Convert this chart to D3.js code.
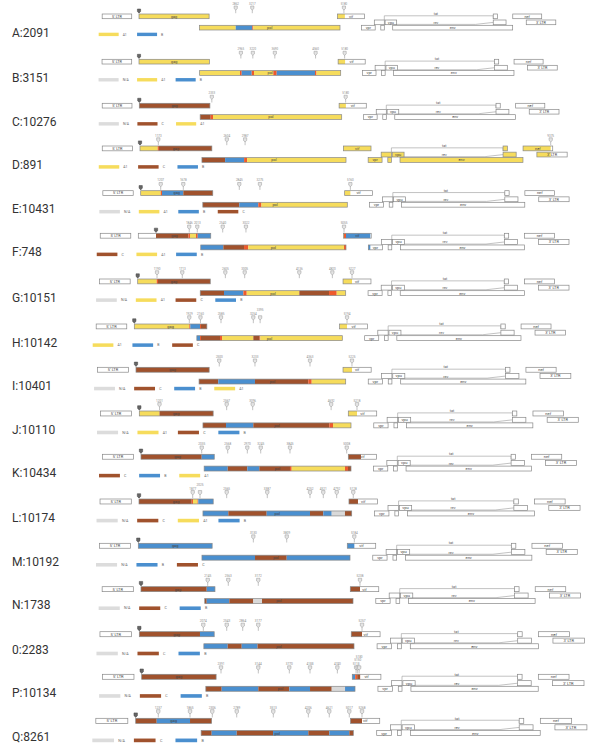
<!DOCTYPE html>
<html><head><meta charset="utf-8">
<script src="https://cdn.jsdelivr.net/npm/d3@7"></script>
<style>
body{margin:0;background:#fff}
svg{display:block;font-family:Roboto,"Noto Sans",Arial,sans-serif}
</style>
</head><body>
<svg id="chart" width="589" height="747"></svg>
<script>
// Sample names, one per recombinant genome map
const sampleLabels = ["A:2091","B:3151","C:10276","D:891","E:10431","F:748","G:10151","H:10142","I:10401",
  "J:10110","K:10434","L:10174","M:10192","N:1738","0:2283","P:10134","Q:8261"];

// HXB2 gene coordinates and reading frame row (0 = top)
const genes = [
  {name:"5' LTR", start:1,    end:634,  row:0, label:"5' LTR"},
  {name:"gag",    start:790,  end:2292, row:0, label:"gag"},
  {name:"pol",    start:2085, end:5096, row:2, label:"pol"},
  {name:"vif",    start:5041, end:5619, row:0, label:"vif"},
  {name:"vpr",    start:5559, end:5850, row:2, label:"vpr"},
  {name:"tat1",   start:5831, end:6045, row:1, label:""},
  {name:"rev1",   start:5970, end:6045, row:2, label:""},
  {name:"vpu",    start:6062, end:6310, row:1, label:"vpu"},
  {name:"env",    start:6225, end:8795, row:2, label:"env"},
  {name:"tat2",   start:8379, end:8469, row:0, label:""},
  {name:"rev2",   start:8379, end:8653, row:1, label:""},
  {name:"nef",    start:8797, end:9417, row:0, label:"nef"},
  {name:"3' LTR", start:9086, end:9719, row:1, label:"3' LTR"}
];

// Subtype segments per genome: [start, end, subtype] (U = unresolved junction, N = N/A)
const recombinantSegments = [
  [[790,2862,"A1"],[2862,3217,"B"],[3217,3240,"U"],[3240,5200,"A1"]],
  [[790,2946,"A1"],[2946,2983,"U"],[2983,3196,"B"],[3196,3245,"U"],[3245,3657,"A1"],[3657,3730,"U"],[3730,4547,"B"],[4547,4580,"U"],[4580,5190,"A1"]],
  [[790,2309,"C"],[2309,2358,"U"],[2358,5185,"A1"]],
  [[790,1160,"A1"],[1160,1185,"U"],[1185,2569,"C"],[2569,2966,"B"],[2966,3028,"U"],[3028,9375,"A1"]],
  [[790,1207,"A1"],[1207,1234,"U"],[1234,1678,"B"],[1678,2845,"C"],[2845,3241,"B"],[3241,3307,"U"],[3307,5160,"A1"]],
  [[1157,1830,"C"],[1830,1862,"U"],[1862,1986,"A1"],[1986,2022,"U"],[2022,2553,"B"],[2553,2982,"C"],[2982,3071,"U"],[3071,5055,"A1"],[5055,5096,"U"],[5096,5600,"B"]],
  [[790,1183,"A1"],[1183,1210,"U"],[1210,2577,"C"],[2577,2977,"B"],[2977,3047,"U"],[3047,4136,"A1"],[4136,4751,"C"],[4751,4910,"U"],[4910,5227,"A1"]],
  [[790,1929,"A1"],[1929,1950,"U"],[1950,2150,"B"],[2150,2170,"U"],[2170,2564,"C"],[2564,2606,"U"],[2606,3254,"A1"],[3254,3385,"C"],[3385,3400,"U"],[3400,5194,"A1"]],
  [[790,2480,"C"],[2480,3233,"B"],[3233,4328,"C"],[4328,4398,"U"],[4398,5225,"A1"]],
  [[790,1201,"A1"],[1201,2554,"C"],[2554,3109,"B"],[3109,4655,"C"],[4655,4730,"U"],[4730,5218,"A1"]],
  [[790,2035,"C"],[2035,2568,"B"],[2568,2970,"C"],[2970,3216,"B"],[3216,3845,"C"],[3845,3880,"U"],[3880,4973,"A1"],[4973,5034,"U"],[5034,5300,"C"]],
  [[790,1857,"C"],[1857,1883,"U"],[1883,1975,"A1"],[1975,1990,"U"],[1990,2598,"B"],[2598,3375,"C"],[3375,4252,"B"],[4252,4521,"C"],[4521,4691,"B"],[4691,4960,"N"],[4960,5223,"C"]],
  [[790,3164,"B"],[3164,3809,"C"],[3809,5184,"B"]],
  [[790,2125,"C"],[2125,2584,"B"],[2584,3071,"C"],[3071,3248,"N"],[3248,5238,"C"]],
  [[790,2007,"C"],[2007,2563,"B"],[2563,2844,"C"],[2844,3161,"B"],[3161,5257,"C"]],
  [[790,2405,"C"],[2405,3144,"B"],[3144,3770,"C"],[3770,4188,"B"],[4188,4626,"C"],[4626,4895,"N"],[4895,5100,"B"],[5100,5140,"U"],[5140,5200,"C"]],
  [[790,1206,"C"],[1206,1865,"B"],[1865,2294,"C"],[2294,2789,"B"],[2789,3507,"C"],[3507,4206,"B"],[4206,4621,"C"],[4621,5017,"B"],[5017,5268,"C"]]
];

// Marked positions per genome: sequence start, breakpoints, sequence end
const breakpoints = [
  [790,2862,3217,5180],
  [790,2965,3220,3690,4560,5180],
  [790,2333,5180],
  [790,1173,2604,2987,9375],
  [790,1207,1678,2845,3275,5160],
  [1157,1846,2013,2540,3022,5055],
  [790,1190,1713,2605,3005,4136,4820,5227],
  [790,1929,2160,2585,3254,3395,5194],
  [790,2500,3233,4363,5225],
  [790,1201,2567,3096,4692,5218],
  [790,2035,2568,2970,3245,3845,5008],
  [790,1877,2025,2565,3387,4252,4521,4792,5128],
  [790,3130,3809,5184],
  [790,2145,2563,3172,5238],
  [790,2074,2543,2864,3177,5257],
  [790,2391,3144,3770,4188,4740,5118,5150,5180],
  [790,1237,1865,2306,2789,3513,4206,4621,5017,5268]
];

// Legend entries per genome
const legendSubtypes = [
  ["A1","B"],["N/A","A1","B"],["N/A","C","A1"],["A1","C","B"],["N/A","A1","B","C"],["C","A1","B"],
  ["N/A","A1","C","B"],["A1","B","C"],["N/A","C","B","A1"],["N/A","A1","C","B"],["C","B","A1"],
  ["N/A","C","A1","B"],["N/A","B","C"],["N/A","C","B"],["N/A","C","B"],["N/A","C","B"],["N/A","C","B"]
];

const subtypeColor = {"A1":"#f6dc5c","B":"#4a8fcf","C":"#a0522d","U":"#ee5a2c","N":"#d9d9d9","N/A":"#dcdcdc"};

// ---- layout ----
const svg = d3.select("#chart");
const panelTop = [14,59.3,103.3,146,190.7,233.3,279,324,367.3,411,454.3,499,543.3,586.7,631.7,674.3,718.3];
const panelRange = [[139,340],[139,340.7],[139.3,341.7],[140,346],[140.7,347.3],[138.3,346],[137.7,345.7],
  [134.3,342.3],[136,345.7],[139.3,351],[141,351],[139,351.7],[138.3,350],[141,353],[139.3,354],[141.7,355],[135.7,353.3]];
const rowOffset = [0, 6, 11.3];
const boxH = 4.7;

sampleLabels.forEach((name, i) => {
  svg.append("text").attr("x", 12).attr("y", panelTop[i] + 18.5).attr("dy", "0.35em")
    .attr("font-size", 12).attr("fill", "#333").text(name);
});

sampleLabels.forEach((name, i) => {
  const x = d3.scaleLinear().domain([790, 5096]).range(panelRange[i]);
  const s = (panelRange[i][1] - panelRange[i][0]) / 201;
  const top = panelTop[i];
  const g = svg.append("g");
  const segs = recombinantSegments[i];
  const yRow = r => top + rowOffset[r] * s;

  // splice connector lines for tat and rev
  const tat1 = genes.find(d => d.name === "tat1"), tat2 = genes.find(d => d.name === "tat2");
  const rev1 = genes.find(d => d.name === "rev1"), rev2 = genes.find(d => d.name === "rev2");
  const tatY = top + 1.8 * s;
  g.append("path").attr("fill", "none").attr("stroke", "#999").attr("stroke-width", 0.6)
    .attr("d", d3.line()([[x(tat1.end), yRow(1)], [x(tat1.end), tatY], [x(tat2.start), tatY], [x(tat2.start), yRow(0) + boxH * s]]));
  const revY = top + 10.4 * s;
  g.append("path").attr("fill", "none").attr("stroke", "#999").attr("stroke-width", 0.6)
    .attr("d", d3.line()([[x(rev1.end), yRow(2)], [x(rev1.end), revY], [x(8000), revY], [x(rev2.start), top + 8.4 * s]]));
  g.append("text").attr("x", x(7150)).attr("y", tatY - 0.7).attr("text-anchor", "middle")
    .attr("font-size", 3.6 * s).attr("fill", "#555").text("tat");
  g.append("text").attr("x", x(7150)).attr("y", revY - 0.6).attr("text-anchor", "middle")
    .attr("font-size", 3.6 * s).attr("fill", "#555").text("rev");

  // gene boxes, filled with the subtype segments they overlap
  genes.forEach(gene => {
    const x0 = x(gene.start), x1 = x(gene.end), y0 = yRow(gene.row), h = boxH * s;
    g.append("rect").attr("x", x0).attr("y", y0).attr("width", x1 - x0).attr("height", h).attr("fill", "#fff");
    segs.forEach(([a, b, st]) => {
      const lo = Math.max(a, gene.start), hi = Math.min(b, gene.end);
      if (hi > lo) g.append("rect").attr("x", x(lo)).attr("y", y0).attr("width", x(hi) - x(lo))
        .attr("height", h).attr("fill", subtypeColor[st]);
    });
    g.append("rect").attr("x", x0).attr("y", y0).attr("width", x1 - x0).attr("height", h)
      .attr("fill", "none").attr("stroke", "#888").attr("stroke-width", 0.7);
    if (gene.label) g.append("text").attr("x", (x0 + x1) / 2).attr("y", y0 + h / 2).attr("dy", "0.35em")
      .attr("text-anchor", "middle").attr("font-size", 3.8 * s).attr("fill", "#444").text(gene.label);
  });

  // breakpoint pins; labels of crowded pins are stacked upward
  let prevX = -99, level = 0;
  breakpoints[i].forEach((p, k) => {
    const px = x(p);
    const first = k === 0;
    level = (px - prevX < 8) ? level + 1 : 0;
    prevX = px;
    const yb = top - 0.8 * s, yt = top - (first ? 5 : 8) * s;
    g.append("line").attr("x1", px).attr("x2", px).attr("y1", yt + 3 * s).attr("y2", yb)
      .attr("stroke", first ? "#555" : "#999").attr("stroke-width", 0.6);
    g.append("path").attr("d", `M${px - 1.6 * s},${yt} h${3.2 * s} v${2.6 * s} l${-1.6 * s},${1.4 * s} l${-1.6 * s},${-1.4 * s} z`)
      .attr("fill", first ? "#666" : "#e4e4e4").attr("stroke", first ? "#444" : "#999").attr("stroke-width", 0.5);
    if (!first) g.append("text").attr("x", px).attr("y", yt - 1 - level * 3.2 * s).attr("text-anchor", "middle")
      .attr("font-size", 2.9 * s).attr("fill", "#888").text(p);
  });

  // legend
  const lx = x(1) - 3.5, ly = top + 18.7 * s;
  legendSubtypes[i].forEach((st, k) => {
    const sx = lx + k * 38.4 * s;
    g.append("rect").attr("x", sx).attr("y", ly).attr("width", 20 * s).attr("height", 3.4 * s)
      .attr("fill", subtypeColor[st]);
    g.append("text").attr("x", sx + 24 * s).attr("y", ly + 1.7 * s).attr("dy", "0.35em")
      .attr("font-size", 3.4 * s).attr("fill", "#666").text(st);
  });
});
</script>
</body></html>
